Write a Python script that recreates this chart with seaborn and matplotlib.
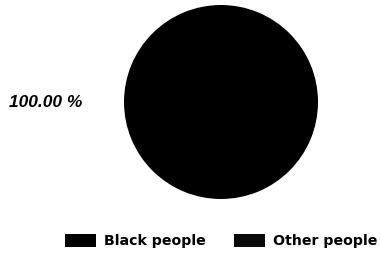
import matplotlib
matplotlib.use("Agg")
import matplotlib.pyplot as plt
import seaborn as sns

categories = ["Black people", "Other people"]
values = [100.0, 0.0]
colors = ["#000000", "#0a0a0a"]

sns.set_theme(style="white")
plt.rcParams["font.family"] = ["Liberation Sans", "DejaVu Sans"]
plt.rcParams["text.color"] = "black"

W, H = 380, 256
fig = plt.figure(figsize=(W / 100, H / 100), dpi=100)
cx, cy, r = 221, 102, 97
ax = fig.add_axes([(cx - r) / W, (H - cy - r) / H, 2 * r / W, 2 * r / H])

labels = [f"{v:.2f} %" if v > 0 else "" for v in values]
wedges, texts = ax.pie(values, colors=colors, labels=labels, startangle=0,
                       labeldistance=1.43, counterclock=True,
                       wedgeprops=dict(linewidth=0, edgecolor="none"),
                       textprops=dict(fontsize=12.5, fontweight="bold", fontstyle="italic", color="black"))
for t in texts:
    t.set_va("center")
ax.set_xlim(-1, 1)
ax.set_ylim(-1, 1)
ax.set_aspect("equal")
ax.axis("off")

leg = fig.legend(wedges, categories, loc="center", bbox_to_anchor=(cx / W, 15 / H), ncol=2,
                 frameon=False, handlelength=2.2, handleheight=1.0, handletextpad=0.55,
                 columnspacing=2.0, prop=dict(family="DejaVu Sans", size=10.2, weight="bold"))
for t in leg.get_texts():
    t.set_color("black")

fig.savefig("out.png", dpi=100)
